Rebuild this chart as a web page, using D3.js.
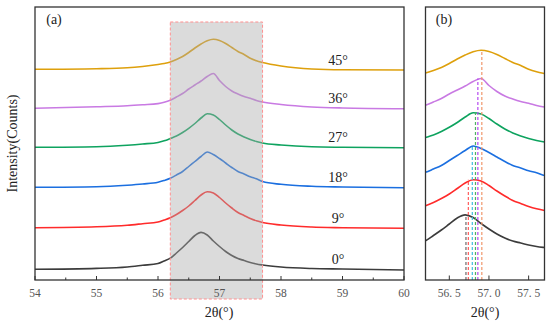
<!DOCTYPE html>
<html>
<head>
<meta charset="utf-8">
<script src="https://cdn.jsdelivr.net/npm/d3@7"></script>
<style>
  body { margin: 0; background: #fff; }
  svg text { font-family: "Liberation Serif", "DejaVu Serif", serif; }
</style>
</head>
<body>
<script>
// 2theta sample points (deg)
const twoTheta = [54, 55, 55.5, 55.75, 56, 56.1, 56.2, 56.3, 56.4, 56.5, 56.6, 56.7, 56.8, 56.9,
  57, 57.1, 57.2, 57.3, 57.4, 57.5, 57.6, 57.7, 58, 58.5, 59, 60];

// intensity (counts, arbitrary) for each rotation angle
const i0  = [107,116,130,147,165,190,218,270,325,385,445,476,450,390,335,285,245,215,195,175,160,150,130,115,110,100];
const i9  = [123,132,147,163,180,200,223,255,295,340,395,450,483,470,425,370,320,275,245,215,192,175,150,130,123,117];
const i18 = [127,133,148,160,177,195,217,250,285,335,385,435,480,455,415,370,325,285,260,232,212,185,157,137,130,123];
const i27 = [127,133,148,160,175,192,215,240,275,317,365,420,462,450,405,350,300,260,230,205,185,170,150,132,127,123];
const i36 = [117,132,142,152,164,177,198,230,265,310,350,390,435,465,395,335,290,260,235,217,195,180,155,130,120,113];
const i45 = [107,113,122,135,155,165,180,205,235,275,320,360,392,407,395,365,325,285,255,217,192,175,140,110,102,100];

const angleLabels = ["0°", "9°", "18°", "27°", "36°", "45°"];
const colors = ["#3c3c3c", "#ff2b2b", "#1b6fe0", "#0ea35f", "#c97ae3", "#dea00c"];
const dashColors = ["#6a6a6a", "#ff5a5a", "#3fbde0", "#4fb060", "#b548f0", "#f0956a"];

// stacking offsets (counts) in panel (a) and (b)
const offsetsA = [0, 400, 800, 1200, 1600, 2000];
const offsetsB = [175, 520, 860, 1210, 1550, 1890];

// peak positions marked in panel (b)
const peakPos = [56.71, 56.74, 56.79, 56.83, 56.86, 56.91];

const ticksA = [54, 55, 56, 57, 58, 59, 60];
const minorA = [54.5, 55.5, 56.5, 57.5, 58.5, 59.5];
const ticksB = [56.5, 57.0, 57.5];
const tickLabelsB = ["56. 5", "57. 0", "57. 5"];
const region = [56.2, 57.7];

const series = [i0, i9, i18, i27, i36, i45];

const width = 550, height = 324;
const svg = d3.select("body").append("svg")
  .attr("width", width).attr("height", height);

const plotTop = 7, plotBottom = 280;
const xA = d3.scaleLinear().domain([54, 60]).range([35, 404]);
const xB = d3.scaleLinear().domain(region).range([425.5, 544.5]);
const y = d3.scaleLinear().domain([0, 2730]).range([plotBottom, plotTop]);

const lineFor = (x, off) => d3.line()
  .x((d, i) => x(twoTheta[i]))
  .y(d => y(d + off))
  .curve(d3.curveMonotoneX);

// ---- panel (a) ----
const gA = svg.append("g");
series.forEach((s, k) => {
  gA.append("path")
    .attr("d", lineFor(xA, offsetsA[k])(s))
    .attr("fill", "none")
    .attr("stroke", colors[k])
    .attr("stroke-width", 1.6);
  const j = twoTheta.indexOf(59);
  gA.append("text")
    .attr("x", 338)
    .attr("y", y(s[j] + offsetsA[k]) - 5)
    .attr("text-anchor", "middle")
    .style("font-size", "14px")
    .style("fill", "#222")
    .text(angleLabels[k]);
});

// shaded region drawn over the curves
gA.append("rect")
  .attr("x", xA(region[0]))
  .attr("y", 22)
  .attr("width", xA(region[1]) - xA(region[0]))
  .attr("height", 299 - 22)
  .attr("fill", "#aaaaaa")
  .attr("fill-opacity", 0.42)
  .attr("stroke", "#ff8f8f")
  .attr("stroke-width", 1)
  .attr("stroke-dasharray", "3,2");

// frame
gA.append("rect")
  .attr("x", 35).attr("y", plotTop)
  .attr("width", 404 - 35).attr("height", plotBottom - plotTop)
  .attr("fill", "none").attr("stroke", "#333").attr("stroke-width", 1.3);

ticksA.forEach(t => {
  gA.append("line").attr("x1", xA(t)).attr("x2", xA(t))
    .attr("y1", plotBottom).attr("y2", plotBottom - 4).attr("stroke", "#333");
  gA.append("text").attr("x", xA(t)).attr("y", 297)
    .attr("text-anchor", "middle").style("font-size", "11.5px").style("fill", "#555")
    .text(t);
});
minorA.forEach(t => {
  gA.append("line").attr("x1", xA(t)).attr("x2", xA(t))
    .attr("y1", plotBottom).attr("y2", plotBottom - 2.5).attr("stroke", "#333");
});

gA.append("text").attr("x", 219).attr("y", 317).attr("text-anchor", "middle")
  .style("font-size", "14px").style("fill", "#222").text("2θ(°)");
gA.append("text")
  .attr("transform", "translate(17," + ((plotTop + plotBottom) / 2) + ") rotate(-90)")
  .attr("text-anchor", "middle")
  .style("font-size", "14px").style("fill", "#222").text("Intensity(Counts)");
gA.append("text").attr("x", 54).attr("y", 24).attr("text-anchor", "middle")
  .style("font-size", "14px").style("fill", "#222").text("(a)");

// ---- panel (b) ----
svg.append("clipPath").attr("id", "clipB")
  .append("rect").attr("x", 425.5).attr("y", plotTop)
  .attr("width", 119).attr("height", plotBottom - plotTop);

const gB = svg.append("g");
const curvesB = gB.append("g").attr("clip-path", "url(#clipB)");
series.forEach((s, k) => {
  curvesB.append("path")
    .attr("d", lineFor(xB, offsetsB[k])(s))
    .attr("fill", "none")
    .attr("stroke", colors[k])
    .attr("stroke-width", 1.6);
});
series.forEach((s, k) => {
  curvesB.append("line")
    .attr("x1", xB(peakPos[k])).attr("x2", xB(peakPos[k]))
    .attr("y1", plotBottom).attr("y2", y(d3.max(s) + offsetsB[k]))
    .attr("stroke", dashColors[k])
    .attr("stroke-width", 1.2)
    .attr("stroke-dasharray", "3,2");
});

gB.append("rect")
  .attr("x", 425.5).attr("y", plotTop)
  .attr("width", 119).attr("height", plotBottom - plotTop)
  .attr("fill", "none").attr("stroke", "#333").attr("stroke-width", 1.3);

ticksB.forEach((t, i) => {
  gB.append("line").attr("x1", xB(t)).attr("x2", xB(t))
    .attr("y1", plotBottom).attr("y2", plotBottom - 4.5).attr("stroke", "#333");
  gB.append("text").attr("x", xB(t)).attr("y", 297)
    .attr("text-anchor", "middle").style("font-size", "11.5px").style("fill", "#555")
    .text(tickLabelsB[i]);
});
gB.append("text").attr("x", 485).attr("y", 317).attr("text-anchor", "middle")
  .style("font-size", "14px").style("fill", "#222").text("2θ(°)");
gB.append("text").attr("x", 444).attr("y", 24).attr("text-anchor", "middle")
  .style("font-size", "14px").style("fill", "#222").text("(b)");
</script>
</body>
</html>
